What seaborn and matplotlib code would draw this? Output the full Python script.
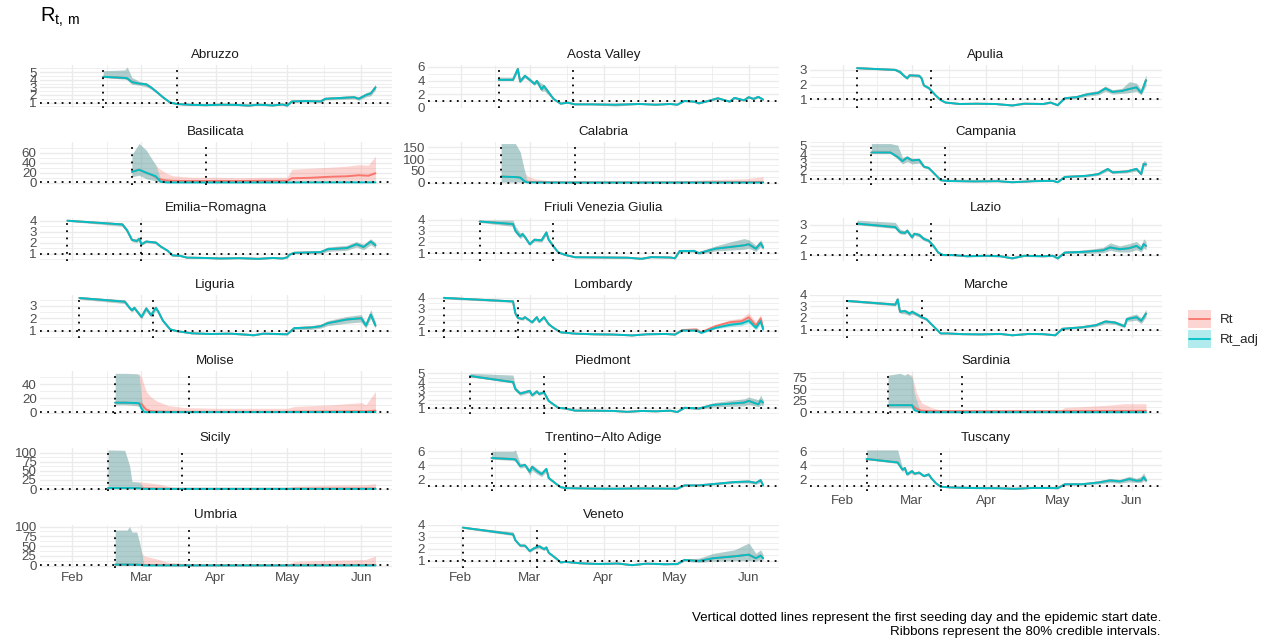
import numpy as np
import pandas as pd
import matplotlib
matplotlib.use("Agg")
import matplotlib.pyplot as plt
from matplotlib.patches import Rectangle
from matplotlib.lines import Line2D
from matplotlib.legend_handler import HandlerBase
import seaborn as sns

# ---------------- data ----------------
DAY0 = pd.Timestamp("2020-02-01")   # day offsets below are days after 1 Feb 2020

regions = ["Abruzzo", "Aosta Valley", "Apulia", "Basilicata", "Calabria", "Campania",
           "Emilia\u2212Romagna", "Friuli Venezia Giulia", "Lazio", "Liguria", "Lombardy",
           "Marche", "Molise", "Piedmont", "Sardinia", "Sicily", "Trentino\u2212Alto Adige",
           "Tuscany", "Umbria", "Veneto"]
seed_day = [13, 16, 6, 25, 17, 12, -2, 8, 6, 3, -7, 2, 18, 4, 19, 15, 13, 10, 18, 1]
start_day = [44, 47, 37, 56, 48, 43, 29, 39, 37, 34, 24, 33, 49, 35, 50, 46, 44, 41, 49, 32]
y_breaks = [[1, 2, 3, 4, 5], [0, 2, 4, 6], [1, 2, 3], [0, 20, 40, 60], [0, 50, 100, 150],
            [1, 2, 3, 4, 5], [1, 2, 3, 4], [1, 2, 3, 4], [1, 2, 3], [1, 2, 3], [1, 2, 3, 4],
            [1, 2, 3, 4], [0, 20, 40], [1, 2, 3, 4, 5], [0, 25, 50, 75], [0, 25, 50, 75, 100],
            [2, 4, 6], [2, 4, 6], [0, 25, 50, 75, 100], [1, 2, 3, 4]]
month_ticks = ["2020-02-01", "2020-03-01", "2020-04-01", "2020-05-01", "2020-06-01"]
month_labels = ["Feb", "Mar", "Apr", "May", "Jun"]

# (day, mean, lower80, upper80)
abruzzo_adj = [(13, 4.4, 4.3, 5.2), (22, 4.25, 4.1, 5.3), (23, 4.2, 4.0, 5.7), (25, 3.7, 3.4, 4.3),
               (28, 3.5, 3.3, 3.8), (31, 3.4, 3.1, 3.6), (33, 3.0, 2.8, 3.2), (35, 2.5, 2.35, 2.65),
               (38, 1.7, 1.6, 1.8), (41, 1.0, 0.95, 1.05), (44, 0.8, 0.75, 0.85), (50, 0.7, 0.65, 0.75),
               (56, 0.65, 0.6, 0.7), (62, 0.72, 0.67, 0.78), (68, 0.7, 0.65, 0.76), (74, 0.6, 0.55, 0.66),
               (78, 0.72, 0.66, 0.78), (84, 0.62, 0.56, 0.68), (88, 0.75, 0.68, 0.82), (90, 0.6, 0.54, 0.66),
               (92, 1.15, 1.05, 1.25), (98, 1.2, 1.1, 1.3), (104, 1.15, 1.05, 1.3), (106, 1.5, 1.35, 1.65),
               (112, 1.6, 1.4, 1.8), (118, 1.7, 1.5, 1.9), (120, 1.5, 1.3, 1.75), (123, 2.0, 1.75, 2.3),
               (125, 2.2, 1.9, 2.5), (127, 3.0, 2.7, 3.4)]
abruzzo_rt = abruzzo_adj

aosta_adj = [(16, 4.1, 4.0, 4.5), (22, 4.1, 4.0, 4.5), (24, 5.7, 5.3, 6.0), (25, 3.85, 3.7, 4.3),
             (27, 4.7, 4.4, 4.9), (29, 4.1, 3.9, 4.4), (31, 3.5, 3.3, 3.8), (32, 3.95, 3.6, 4.1),
             (34, 2.7, 2.4, 3.6), (35, 3.2, 2.5, 3.4), (39, 1.3, 1.2, 1.4), (42, 0.6, 0.55, 0.65),
             (45, 0.75, 0.7, 0.8), (48, 0.5, 0.45, 0.55), (55, 0.5, 0.45, 0.55), (65, 0.45, 0.25, 0.5),
             (75, 0.55, 0.5, 0.6), (82, 0.45, 0.4, 0.5), (88, 0.55, 0.5, 0.6), (91, 0.45, 0.4, 0.5),
             (94, 1.0, 0.9, 1.1), (98, 0.9, 0.8, 1.0), (100, 0.65, 0.55, 0.75), (104, 1.0, 0.9, 1.1),
             (108, 1.4, 1.25, 1.5), (113, 0.9, 0.8, 1.0), (115, 1.45, 1.3, 1.6), (119, 1.1, 1.0, 1.2),
             (121, 1.55, 1.4, 1.7), (123, 1.3, 1.15, 1.45), (125, 1.6, 1.45, 1.75), (127, 1.2, 1.1, 1.35)]
aosta_rt = aosta_adj

apulia_adj = [(6, 3.12, 3.08, 3.2), (22, 3.0, 2.95, 3.1), (24, 2.85, 2.75, 3.0), (26, 2.55, 2.45, 2.65),
              (27, 2.43, 2.35, 2.55), (28, 2.63, 2.55, 2.72), (32, 2.6, 2.5, 2.7), (33, 2.43, 2.35, 2.55),
              (34, 1.94, 1.85, 2.05), (36, 1.77, 1.7, 1.85), (39, 1.25, 1.2, 1.3), (41, 0.95, 0.9, 1.0),
              (43, 0.78, 0.75, 0.82), (49, 0.68, 0.65, 0.72), (56, 0.7, 0.66, 0.74), (64, 0.68, 0.64, 0.72),
              (71, 0.58, 0.54, 0.62), (76, 0.7, 0.66, 0.74), (84, 0.68, 0.63, 0.74), (87, 0.78, 0.72, 0.84),
              (90, 0.6, 0.55, 0.66), (93, 1.07, 1.0, 1.15), (98, 1.15, 1.05, 1.25), (102, 1.32, 1.2, 1.45),
              (107, 1.44, 1.3, 1.6), (110, 1.74, 1.55, 1.9), (113, 1.5, 1.35, 1.65), (117, 1.57, 1.4, 1.75),
              (120, 1.7, 1.45, 2.2), (123, 1.81, 1.55, 2.1), (125, 1.44, 1.3, 1.65), (127, 2.3, 1.94, 2.68)]
apulia_rt = apulia_adj

basilicata_adj = [(25, 21.7, 12, 56), (28, 26, 15, 78), (31, 20, 8, 65), (35, 13, 4, 35), (37, 2, 0.5, 8),
                  (40, 0.7, 0.3, 1.5), (60, 0.6, 0.3, 1.2), (90, 0.6, 0.3, 1.2), (100, 0.8, 0.4, 1.5),
                  (127, 0.9, 0.4, 1.8)]
basilicata_rt = [(25, 21.7, 12, 56), (28, 26, 15, 78), (31, 20, 8, 65), (34, 14, 5, 42), (36, 8, 2, 30),
                 (39, 5, 1, 20), (42, 4, 0.8, 14), (50, 3.5, 0.7, 11), (60, 3.5, 0.7, 11), (70, 3.5, 0.7, 10),
                 (80, 4, 0.8, 11), (90, 4, 0.8, 11), (92, 9, 2, 27), (100, 10, 2.5, 29), (108, 12, 3, 31),
                 (115, 13, 3, 33), (120, 15, 4, 36), (124, 14, 3, 35), (127, 19, 5, 53)]

calabria_adj = [(17, 26, 3, 166), (23, 24, 3, 166), (25, 22, 3, 131), (27, 5, 1, 44), (28, 1.5, 0.5, 7),
                (40, 0.8, 0.4, 1.5), (127, 0.9, 0.4, 2)]
calabria_rt = [(17, 26, 3, 166), (23, 24, 3, 166), (25, 22, 3, 131), (27, 6, 1, 44), (28, 4, 1, 29),
               (31, 3, 0.8, 17), (37, 2, 0.5, 9), (45, 1.5, 0.4, 5), (60, 1.5, 0.4, 4), (90, 1.5, 0.4, 7),
               (105, 2, 0.5, 13), (120, 2.5, 0.5, 17), (127, 3, 0.6, 26)]

campania_adj = [(12, 4.2, 4.15, 5.3), (20, 4.2, 4.1, 5.3), (23, 3.65, 3.4, 5.1), (25, 3.15, 2.8, 3.6),
                (27, 3.57, 3.1, 3.8), (29, 3.23, 2.8, 3.5), (32, 3.3, 2.9, 3.5), (34, 2.47, 2.3, 2.6),
                (36, 2.3, 2.2, 2.4), (39, 1.42, 1.35, 1.5), (41, 0.8, 0.75, 0.85), (44, 0.7, 0.66, 0.74),
                (55, 0.65, 0.62, 0.7), (65, 0.68, 0.64, 0.72), (71, 0.55, 0.52, 0.6), (80, 0.68, 0.63, 0.72),
                (88, 0.72, 0.67, 0.78), (90, 0.55, 0.5, 0.6), (93, 1.2, 1.1, 1.3), (102, 1.34, 1.2, 1.45),
                (107, 1.55, 1.4, 1.7), (111, 2.18, 1.95, 2.35), (113, 1.76, 1.6, 1.9), (119, 1.88, 1.7, 2.05),
                (123, 2.18, 1.95, 2.4), (125, 1.55, 1.4, 1.75), (126, 2.8, 2.5, 3.2), (127, 2.73, 2.5, 3.1)]
campania_rt = campania_adj

emilia_adj = [(-2, 4.0, 3.95, 4.05), (21, 3.66, 3.5, 3.8), (23, 3.1, 2.95, 3.3), (25, 2.25, 2.1, 2.4),
              (27, 2.15, 2.0, 2.3), (28, 2.35, 2.2, 2.5), (29, 1.85, 1.75, 1.95), (31, 2.1, 2.0, 2.2),
              (35, 2.0, 1.9, 2.15), (37, 1.65, 1.55, 1.75), (40, 1.25, 1.2, 1.3), (42, 0.83, 0.78, 0.88),
              (45, 0.8, 0.75, 0.85), (48, 0.63, 0.6, 0.67), (55, 0.6, 0.56, 0.64), (62, 0.55, 0.52, 0.6),
              (70, 0.58, 0.54, 0.62), (78, 0.52, 0.48, 0.56), (84, 0.6, 0.55, 0.65), (88, 0.55, 0.5, 0.6),
              (90, 0.65, 0.6, 0.7), (91, 0.9, 0.85, 0.95), (93, 1.07, 1.0, 1.15), (104, 1.13, 1.0, 1.25),
              (107, 1.4, 1.2, 1.6), (115, 1.5, 1.3, 1.75), (119, 1.85, 1.6, 2.1), (122, 1.6, 1.35, 1.85),
              (125, 2.1, 1.8, 2.35), (127, 1.75, 1.5, 2.0)]
emilia_rt = emilia_adj

friuli_adj = [(8, 3.83, 3.75, 3.95), (22, 3.6, 3.4, 3.95), (23, 3.0, 2.8, 3.4), (25, 2.5, 2.3, 2.8),
              (26, 2.7, 2.5, 2.9), (27, 2.45, 2.3, 2.6), (29, 1.8, 1.7, 1.95), (31, 2.2, 2.05, 2.35),
              (34, 2.15, 2.0, 2.3), (36, 2.85, 2.6, 3.0), (37, 2.2, 2.05, 2.35), (39, 1.6, 1.5, 1.7),
              (41, 1.07, 1.0, 1.15), (44, 0.84, 0.8, 0.9), (48, 0.64, 0.6, 0.7), (60, 0.62, 0.58, 0.68),
              (70, 0.6, 0.56, 0.66), (76, 0.5, 0.46, 0.56), (80, 0.65, 0.6, 0.7), (88, 0.62, 0.56, 0.68),
              (90, 0.55, 0.5, 0.6), (92, 1.2, 1.1, 1.3), (98, 1.2, 1.1, 1.35), (100, 1.0, 0.9, 1.15),
              (107, 1.4, 1.2, 1.65), (115, 1.6, 1.3, 2.1), (119, 1.7, 1.35, 2.3), (121, 1.8, 1.45, 2.2),
              (124, 1.4, 1.15, 1.7), (126, 1.9, 1.6, 2.2), (127, 1.5, 1.3, 1.8)]
friuli_rt = friuli_adj

lazio_adj = [(6, 3.07, 3.0, 3.3), (22, 2.84, 2.75, 3.15), (24, 2.5, 2.4, 2.7), (26, 2.46, 2.35, 2.6),
             (27, 2.6, 2.5, 2.75), (29, 2.17, 2.05, 2.3), (30, 2.4, 2.3, 2.5), (32, 2.33, 2.2, 2.45),
             (34, 2.06, 1.95, 2.2), (36, 1.94, 1.85, 2.05), (38, 1.6, 1.5, 1.7), (40, 1.16, 1.1, 1.22),
             (42, 1.0, 0.95, 1.05), (46, 1.0, 0.95, 1.05), (52, 0.92, 0.88, 0.96), (60, 0.95, 0.9, 1.0),
             (66, 0.92, 0.88, 0.96), (71, 0.78, 0.74, 0.82), (76, 0.95, 0.9, 1.0), (84, 0.92, 0.87, 0.97),
             (88, 0.95, 0.9, 1.0), (90, 0.78, 0.72, 0.84), (93, 1.16, 1.1, 1.25), (99, 1.2, 1.1, 1.3),
             (102, 1.22, 1.1, 1.35), (109, 1.31, 1.15, 1.5), (112, 1.5, 1.3, 1.8), (116, 1.38, 1.2, 1.6),
             (120, 1.45, 1.2, 1.75), (123, 1.6, 1.35, 1.9), (125, 1.38, 1.2, 1.6), (126, 1.72, 1.45, 2.06),
             (127, 1.6, 1.35, 1.9)]
lazio_rt = lazio_adj

liguria_adj = [(3, 3.65, 3.55, 3.75), (22, 3.35, 3.2, 3.5), (24, 2.85, 2.7, 3.0), (25, 2.65, 2.5, 2.8),
               (26, 2.85, 2.7, 3.0), (29, 2.1, 1.95, 2.25), (31, 2.8, 2.6, 2.95), (33, 2.25, 2.1, 2.4),
               (35, 2.85, 2.65, 3.0), (36, 2.55, 2.4, 2.7), (38, 1.8, 1.7, 1.9), (41, 1.1, 1.05, 1.15),
               (44, 0.95, 0.9, 1.0), (50, 0.78, 0.74, 0.82), (58, 0.72, 0.68, 0.76), (66, 0.75, 0.7, 0.8),
               (72, 0.68, 0.63, 0.73), (76, 0.62, 0.57, 0.67), (80, 0.75, 0.7, 0.8), (86, 0.72, 0.66, 0.78),
               (90, 0.7, 0.64, 0.76), (93, 1.2, 1.1, 1.3), (100, 1.25, 1.1, 1.4), (104, 1.35, 1.2, 1.5),
               (107, 1.6, 1.4, 1.8), (115, 1.9, 1.6, 2.15), (121, 2.0, 1.7, 2.3), (123, 1.4, 1.2, 1.65),
               (125, 2.3, 2.0, 2.7), (127, 1.4, 1.2, 1.7)]
liguria_rt = liguria_adj

lombardy_adj = [(-7, 4.0, 3.9, 4.1), (22, 3.68, 3.6, 3.8), (23, 2.6, 2.45, 2.75), (24, 2.2, 2.1, 2.3),
                (26, 2.1, 2.0, 2.2), (27, 2.26, 2.15, 2.35), (30, 1.8, 1.7, 1.9), (32, 2.26, 2.15, 2.4),
                (33, 1.85, 1.75, 1.95), (35, 2.26, 2.15, 2.4), (37, 1.63, 1.55, 1.7), (39, 1.3, 1.25, 1.35),
                (42, 0.9, 0.85, 0.95), (48, 0.78, 0.74, 0.82), (56, 0.72, 0.68, 0.76), (64, 0.7, 0.66, 0.74),
                (72, 0.62, 0.58, 0.66), (78, 0.72, 0.68, 0.76), (86, 0.75, 0.7, 0.8), (90, 0.7, 0.65, 0.75),
                (93, 1.06, 1.0, 1.12), (99, 1.06, 0.98, 1.14), (101, 0.85, 0.78, 0.92), (107, 1.3, 1.2, 1.4),
                (113, 1.57, 1.4, 1.75), (118, 1.7, 1.5, 1.9), (121, 1.95, 1.7, 2.2), (124, 1.3, 1.1, 1.5),
                (126, 1.9, 1.65, 2.1), (127, 1.15, 1.0, 1.3)]
lombardy_rt = [(-7, 4.0, 3.9, 4.1), (22, 3.68, 3.6, 3.8), (23, 2.6, 2.45, 2.75), (24, 2.2, 2.1, 2.3),
               (26, 2.1, 2.0, 2.2), (27, 2.26, 2.15, 2.35), (30, 1.8, 1.7, 1.9), (32, 2.26, 2.15, 2.4),
               (33, 1.85, 1.75, 1.95), (35, 2.26, 2.15, 2.4), (37, 1.63, 1.55, 1.7), (39, 1.3, 1.25, 1.35),
               (42, 0.9, 0.85, 0.95), (48, 0.78, 0.74, 0.82), (56, 0.72, 0.68, 0.76), (64, 0.7, 0.66, 0.74),
               (72, 0.62, 0.58, 0.66), (78, 0.72, 0.68, 0.76), (86, 0.75, 0.7, 0.8), (90, 0.7, 0.65, 0.75),
               (93, 1.1, 1.0, 1.25), (99, 1.15, 1.0, 1.3), (101, 0.9, 0.8, 1.05), (107, 1.45, 1.25, 1.6),
               (113, 1.8, 1.5, 2.0), (118, 1.9, 1.6, 2.2), (121, 2.25, 1.9, 2.65), (124, 1.5, 1.2, 1.8),
               (126, 2.15, 1.8, 2.5), (127, 1.3, 1.1, 1.5)]

marche_adj = [(2, 3.47, 3.4, 3.6), (22, 3.15, 3.05, 3.3), (23, 3.6, 3.3, 3.8), (24, 2.53, 2.4, 2.7),
              (26, 2.6, 2.35, 2.75), (28, 2.37, 2.2, 2.55), (29, 2.53, 2.35, 2.7), (32, 2.2, 2.05, 2.35),
              (33, 2.06, 1.95, 2.2), (35, 1.9, 1.8, 2.0), (38, 1.28, 1.2, 1.35), (41, 0.66, 0.62, 0.7),
              (44, 0.66, 0.62, 0.7), (50, 0.6, 0.56, 0.64), (58, 0.58, 0.54, 0.62), (66, 0.62, 0.58, 0.66),
              (71, 0.5, 0.46, 0.55), (78, 0.62, 0.58, 0.66), (84, 0.6, 0.55, 0.66), (89, 0.5, 0.45, 0.56),
              (92, 1.06, 1.0, 1.12), (100, 1.19, 1.1, 1.3), (106, 1.37, 1.25, 1.5), (110, 1.69, 1.5, 1.85),
              (114, 1.6, 1.45, 1.75), (118, 1.28, 1.15, 1.45), (119, 1.9, 1.7, 2.1), (123, 2.06, 1.8, 2.35),
              (125, 1.75, 1.5, 2.0), (127, 2.37, 2.1, 2.75)]
marche_rt = marche_adj

molise_adj = [(18, 14, 11, 55.6), (22, 14, 11, 55.6), (27, 13.5, 10, 55), (28, 13, 8, 53), (29, 6, 1, 20),
              (30, 1, 0.2, 4), (31, 0.5, 0.1, 1.5), (127, 0.7, 0.2, 2)]
molise_rt = [(18, 14, 11, 55.6), (22, 14, 11, 55.6), (28, 13, 9, 55), (29, 12, 6, 50), (31, 4, 1, 30),
             (33, 2, 0.5, 22), (35, 1.5, 0.4, 17), (40, 1.2, 0.3, 10), (47, 1.0, 0.3, 7), (60, 1.0, 0.3, 6),
             (90, 1.0, 0.3, 6), (93, 1.3, 0.3, 8.6), (109, 1.5, 0.4, 11), (121, 1.8, 0.4, 14),
             (123, 1.6, 0.4, 11), (127, 2.7, 0.6, 30)]

piedmont_adj = [(4, 4.7, 4.6, 5.0), (22, 4.0, 3.9, 4.8), (23, 3.2, 3.0, 3.5), (25, 2.7, 2.5, 2.9),
                (29, 3.0, 2.8, 3.2), (30, 2.5, 2.35, 2.65), (32, 2.95, 2.75, 3.1), (33, 2.65, 2.5, 2.8),
                (35, 2.85, 2.7, 3.0), (37, 1.85, 1.75, 1.95), (41, 1.08, 1.03, 1.13), (44, 1.0, 0.95, 1.05),
                (48, 0.76, 0.72, 0.8), (56, 0.75, 0.7, 0.8), (64, 0.72, 0.68, 0.78), (70, 0.62, 0.58, 0.66),
                (76, 0.72, 0.67, 0.78), (82, 0.68, 0.63, 0.74), (88, 0.75, 0.7, 0.82), (91, 0.6, 0.55, 0.66),
                (94, 1.08, 1.0, 1.2), (100, 1.0, 0.9, 1.15), (106, 1.4, 1.15, 1.65), (113, 1.55, 1.25, 1.9),
                (119, 1.67, 1.3, 2.1), (121, 1.86, 1.45, 2.3), (125, 1.47, 1.2, 2.0), (126, 1.9, 1.4, 2.5),
                (127, 1.67, 1.3, 2.0)]
piedmont_rt = piedmont_adj

sardinia_adj = [(19, 15.8, 10, 80), (24, 15.8, 10, 84), (26, 15.8, 10, 80), (27, 15.8, 10, 84),
                (29, 15.8, 10, 76), (30, 5.5, 2, 41), (32, 1.6, 0.5, 9.5), (34, 0.7, 0.3, 2), (127, 0.7, 0.3, 2)]
sardinia_rt = [(19, 15.8, 10, 80), (24, 15.8, 10, 84), (26, 15.8, 10, 80), (27, 15.8, 10, 84),
               (29, 15.8, 10, 80), (31, 8, 3, 41), (33, 4, 1.5, 21), (37, 3, 1, 11), (41, 3, 0.8, 5.5),
               (60, 3, 0.8, 4.7), (91, 3, 0.8, 4.7), (93, 3.2, 0.8, 11), (100, 3.3, 0.8, 12.6),
               (111, 3.5, 0.8, 15.8), (118, 3.6, 0.9, 19), (127, 3.8, 0.9, 19)]

sicily_adj = [(15, 3, 1, 107), (22, 3, 1, 106), (24, 3, 1, 64), (25, 3, 1, 21), (28, 2.5, 0.8, 19),
              (29, 1.5, 0.5, 13), (30, 0.8, 0.3, 3), (127, 0.8, 0.3, 2)]
sicily_rt = [(15, 3, 1, 107), (22, 3, 1, 106), (24, 3, 1, 64), (25, 3, 1, 21), (28, 2.8, 0.8, 20),
             (31, 2, 0.6, 18), (37, 1.5, 0.5, 13), (42, 1, 0.4, 5), (60, 1, 0.3, 3.5), (90, 1, 0.3, 3.5),
             (93, 1.3, 0.4, 8), (109, 1.5, 0.4, 11), (123, 1.6, 0.4, 12), (127, 2, 0.5, 15)]

trentino_adj = [(13, 5.05, 4.9, 6.0), (22, 4.9, 4.7, 6.0), (23, 4.85, 4.6, 6.2), (25, 3.9, 3.6, 4.3),
                (27, 4.07, 3.8, 4.3), (29, 3.1, 2.6, 3.5), (30, 3.8, 3.3, 4.1), (32, 3.2, 2.8, 3.6),
                (34, 2.75, 2.4, 3.1), (36, 3.5, 3.1, 3.7), (37, 2.2, 2.0, 2.4), (40, 1.4, 1.3, 1.5),
                (42, 0.9, 0.85, 0.95), (44, 0.76, 0.72, 0.8), (55, 0.7, 0.66, 0.74), (65, 0.68, 0.64, 0.72),
                (75, 0.72, 0.68, 0.76), (85, 0.7, 0.65, 0.75), (91, 0.68, 0.63, 0.73), (94, 1.15, 1.05, 1.25),
                (100, 1.15, 1.05, 1.3), (108, 1.4, 1.25, 1.55), (115, 1.63, 1.45, 1.8), (121, 1.7, 1.5, 1.9),
                (124, 1.5, 1.3, 1.7), (126, 1.9, 1.6, 2.1), (127, 1.15, 1.0, 1.3)]
trentino_rt = trentino_adj

tuscany_adj = [(10, 4.9, 4.8, 6.2), (23, 4.4, 4.25, 6.2), (25, 3.35, 3.1, 3.6), (26, 3.6, 3.3, 3.8),
               (27, 2.68, 2.5, 2.9), (29, 3.15, 2.9, 3.35), (30, 2.78, 2.6, 2.95), (32, 2.94, 2.75, 3.1),
               (34, 2.43, 2.3, 2.6), (36, 2.68, 2.5, 2.85), (37, 2.17, 2.05, 2.3), (39, 1.4, 1.33, 1.47),
               (41, 0.9, 0.86, 0.95), (45, 0.8, 0.76, 0.84), (55, 0.7, 0.66, 0.74), (65, 0.68, 0.64, 0.72),
               (72, 0.6, 0.56, 0.64), (80, 0.72, 0.67, 0.77), (87, 0.7, 0.65, 0.75), (90, 0.68, 0.63, 0.73),
               (93, 1.25, 1.15, 1.35), (100, 1.25, 1.15, 1.4), (107, 1.5, 1.3, 1.75), (112, 1.8, 1.5, 2.1),
               (116, 1.66, 1.4, 1.95), (120, 2.0, 1.6, 2.4), (123, 1.76, 1.5, 2.1), (125, 1.8, 1.5, 2.4),
               (126, 2.27, 1.8, 2.9), (127, 1.8, 1.5, 2.2)]
tuscany_rt = tuscany_adj

umbria_adj = [(18, 3, 1, 91), (23, 3, 1, 91), (24, 3, 1, 100), (25, 3, 1, 86), (27, 2.8, 1, 86),
              (28, 2.5, 0.8, 64), (29, 2, 0.6, 36), (30, 0.8, 0.3, 5), (127, 0.8, 0.3, 2)]
umbria_rt = [(18, 3, 1, 91), (23, 3, 1, 91), (24, 3, 1, 100), (25, 3, 1, 86), (27, 2.8, 1, 86),
             (28, 2.6, 0.8, 64), (29, 2.4, 0.7, 36), (30, 2.2, 0.6, 25), (35, 1.8, 0.5, 18), (40, 1.3, 0.4, 9),
             (50, 1, 0.3, 5), (90, 1, 0.3, 4.5), (93, 1.3, 0.4, 11), (109, 1.5, 0.4, 14), (123, 1.7, 0.4, 16),
             (127, 2.2, 0.5, 25)]

veneto_adj = [(1, 3.76, 3.7, 3.85), (22, 3.2, 3.1, 3.4), (23, 2.7, 2.6, 2.85), (25, 2.26, 2.15, 2.35),
              (27, 2.26, 2.15, 2.35), (29, 1.8, 1.7, 1.9), (31, 2.05, 1.95, 2.2), (33, 2.2, 2.05, 2.35),
              (35, 1.96, 1.85, 2.1), (36, 2.1, 1.95, 2.25), (37, 1.66, 1.58, 1.75), (40, 1.2, 1.15, 1.25),
              (42, 0.85, 0.8, 0.9), (44, 0.9, 0.85, 0.95), (50, 0.78, 0.74, 0.82), (58, 0.72, 0.68, 0.76),
              (66, 0.76, 0.72, 0.8), (72, 0.62, 0.58, 0.66), (78, 0.75, 0.7, 0.8), (86, 0.7, 0.64, 0.76),
              (91, 0.72, 0.66, 0.78), (94, 1.06, 0.95, 1.15), (100, 0.97, 0.85, 1.2), (106, 1.2, 0.95, 1.6),
              (115, 1.36, 1.0, 1.9), (121, 1.5, 1.0, 2.47), (124, 1.2, 0.95, 1.6), (126, 1.42, 1.1, 1.9),
              (127, 1.2, 1.0, 1.5)]
veneto_rt = veneto_adj

series_adj = [abruzzo_adj, aosta_adj, apulia_adj, basilicata_adj, calabria_adj, campania_adj, emilia_adj,
              friuli_adj, lazio_adj, liguria_adj, lombardy_adj, marche_adj, molise_adj, piedmont_adj,
              sardinia_adj, sicily_adj, trentino_adj, tuscany_adj, umbria_adj, veneto_adj]
series_rt = [abruzzo_rt, aosta_rt, apulia_rt, basilicata_rt, calabria_rt, campania_rt, emilia_rt,
             friuli_rt, lazio_rt, liguria_rt, lombardy_rt, marche_rt, molise_rt, piedmont_rt,
             sardinia_rt, sicily_rt, trentino_rt, tuscany_rt, umbria_rt, veneto_rt]

# ---------------- tidy table ----------------
rows = []
for name, rt, adj in zip(regions, series_rt, series_adj):
    for label, tab in (("Rt", rt), ("Rt_adj", adj)):
        for d, m, lo, hi in tab:
            rows.append((name, label, DAY0 + pd.Timedelta(days=d), m, lo, hi))
df = pd.DataFrame(rows, columns=["region", "series", "date", "mean", "lo", "hi"])
vl = pd.DataFrame({"region": regions,
                   "seed": [DAY0 + pd.Timedelta(days=d) for d in seed_day],
                   "start": [DAY0 + pd.Timedelta(days=d) for d in start_day]})

# ---------------- style ----------------
sns.set_theme(style="white")
plt.rcParams["font.family"] = ["Liberation Sans", "DejaVu Sans"]
RED, TEAL = "#F8766D", "#00BFC4"
palette = {"Rt": RED, "Rt_adj": TEAL}
GRID = "#EBEBEB"
TXT = "#4D4D4D"
FS = 9.6

W, H = 1270, 644
fig = plt.figure(figsize=(W / 100, H / 100), dpi=100)

col_left = [39.5, 428, 810]
col_w = [352, 351, 352]
panel_h = 43
row_top0, row_step = 65, 76.6

# x limits (ggplot-style 5% expansion over data + vlines)
xall = pd.concat([df["date"], vl["seed"], vl["start"]])
xmin, xmax = xall.min(), xall.max()
xpad = (xmax - xmin) * 0.05
xlim = (xmin - xpad, xmax + xpad)
maj = pd.to_datetime(month_ticks)
ext = pd.to_datetime(["2020-01-01"] + month_ticks + ["2020-07-01"])
minor_x = [ext[i] + (ext[i + 1] - ext[i]) / 2 for i in range(len(ext) - 1)]
minor_x = [m for m in minor_x if xlim[0] <= m <= xlim[1]]

ncol = 3
nreg = len(regions)
for i, name in enumerate(regions):
    r, c = divmod(i, ncol)
    top = row_top0 + row_step * r
    ax = fig.add_axes([col_left[c] / W, 1 - (top + panel_h) / H, col_w[c] / W, panel_h / H])
    sub = df[df["region"] == name]

    for s in ("Rt", "Rt_adj"):
        ss = sub[sub["series"] == s]
        ax.fill_between(ss["date"], ss["lo"], ss["hi"], color=palette[s], alpha=0.3, lw=0, zorder=2)
    sns.lineplot(data=sub, x="date", y="mean", hue="series", hue_order=["Rt", "Rt_adj"],
                 palette=palette, estimator=None, legend=False, linewidth=1.4, ax=ax, zorder=3)

    dots = dict(color="black", linestyle=(0, (1, 3)), linewidth=1.3, zorder=4)
    ax.axhline(1, **dots)
    row_v = vl[vl["region"] == name].iloc[0]
    ax.axvline(row_v["seed"], **dots)
    ax.axvline(row_v["start"], **dots)

    # y scale
    ylo = min(sub["lo"].min(), 1)
    yhi = max(sub["hi"].max(), 1)
    ypad = (yhi - ylo) * 0.05
    ax.set_ylim(ylo - ypad, yhi + ypad)
    br = y_breaks[i]
    step = br[1] - br[0]
    ext_b = [br[0] - step] + br + [br[-1] + step]
    minor_y = [(ext_b[k] + ext_b[k + 1]) / 2 for k in range(len(ext_b) - 1)]
    minor_y = [m for m in minor_y if ylo - ypad <= m <= yhi + ypad]
    ax.set_yticks(br)
    ax.set_yticklabels([str(b) for b in br])
    ax.set_yticks(minor_y, minor=True)

    ax.set_xlim(*xlim)
    ax.set_xticks(maj)
    ax.set_xticks(minor_x, minor=True)
    bottom = (i + ncol >= nreg)
    if bottom:
        ax.set_xticklabels(month_labels)
    else:
        ax.set_xticklabels([])

    ax.grid(True, which="major", color=GRID, linewidth=1.0, zorder=0)
    ax.grid(True, which="minor", color=GRID, linewidth=0.55, zorder=0)
    ax.set_axisbelow(True)
    for sp in ax.spines.values():
        sp.set_visible(False)
    ax.tick_params(which="both", length=0, labelsize=FS, labelcolor=TXT, pad=2)
    ax.tick_params(axis="x", pad=3)
    ax.set_xlabel("")
    ax.set_ylabel("")
    ax.set_title(name, fontsize=FS, color="#1A1A1A", pad=5)

# title
fig.text(40 / W, 1 - 17 / H, r"R$_{\mathregular{t,\,m}}$", fontsize=14.5, va="center", ha="left",
         color="black")

# caption
fig.text(1161 / W, 1 - 625 / H,
         "Vertical dotted lines represent the first seeding day and the epidemic start date.\n"
         "Ribbons represent the 80% credible intervals.",
         ha="right", va="center", multialignment="right", fontsize=FS, color="black",
         linespacing=1.25)


# legend: filled key with a line across its middle (ggplot ribbon+line key)
class RibbonLineKey(HandlerBase):
    def create_artists(self, legend, orig_handle, xdescent, ydescent, width, height, fontsize, trans):
        col = orig_handle.get_color()
        rect = Rectangle((-xdescent, -ydescent), width, height, facecolor=col, alpha=0.3,
                         edgecolor="none", transform=trans)
        ymid = -ydescent + height / 2
        line = Line2D([-xdescent + 1, -xdescent + width - 1], [ymid, ymid], color=col, lw=1.3,
                      transform=trans)
        return [rect, line]


handles = [Line2D([0], [0], color=RED), Line2D([0], [0], color=TEAL)]
fig.legend(handles, ["Rt", "Rt_adj"], loc="center left", bbox_to_anchor=(1188 / W, 1 - 329 / H),
           frameon=False, fontsize=FS, handlelength=1.75, handleheight=1.75, labelspacing=0.12,
           handletextpad=0.65, borderpad=0, borderaxespad=0, handler_map={Line2D: RibbonLineKey()})

fig.savefig("out.png", dpi=100)
